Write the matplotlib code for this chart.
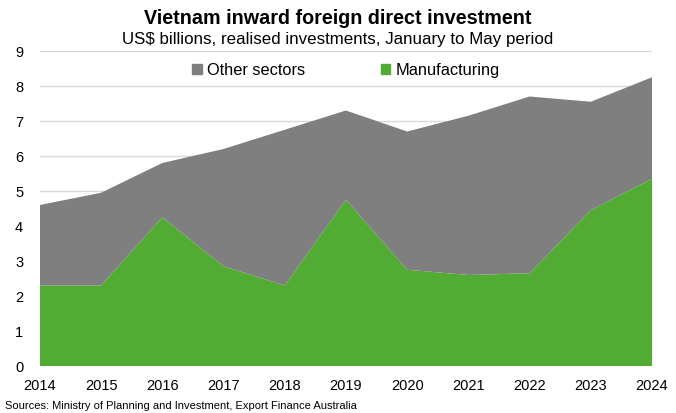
import matplotlib
matplotlib.use("Agg")
import matplotlib.pyplot as plt
from matplotlib.patches import Patch

years = [2014, 2015, 2016, 2017, 2018, 2019, 2020, 2021, 2022, 2023, 2024]
manufacturing = [2.3, 2.3, 4.25, 2.85, 2.3, 4.75, 2.75, 2.6, 2.65, 4.45, 5.35]
other_sectors = [2.3, 2.65, 1.55, 3.35, 4.45, 2.55, 3.95, 4.55, 5.05, 3.1, 2.9]
y_ticks = [0, 1, 2, 3, 4, 5, 6, 7, 8, 9]

plt.rcParams['font.family'] = ['Liberation Sans', 'DejaVu Sans']

green = '#52ab33'
grey = '#7f7f7f'

fig = plt.figure(figsize=(6.76, 4.13), dpi=100)
ax = fig.add_axes([0.059, 0.1138, 0.9055, 0.7627])

ax.stackplot(years, manufacturing, other_sectors, colors=[green, grey],
             labels=['Manufacturing', 'Other sectors'], linewidth=0, zorder=2)

ax.set_xlim(years[0], years[-1])
ax.set_ylim(0, 9)
ax.set_yticks(y_ticks)
ax.set_xticks(years)
ax.grid(axis='y', color='#d9d9d9', linewidth=1, zorder=0)
ax.set_axisbelow(True)
for s in ax.spines.values():
    s.set_visible(False)
ax.tick_params(axis='both', length=0, labelsize=10.5, colors='#000000')
ax.tick_params(axis='y', pad=12)
ax.tick_params(axis='x', pad=9)

handles = [Patch(color=grey), Patch(color=green)]
leg = ax.legend(handles, ['Other sectors', 'Manufacturing'], loc='upper center',
                bbox_to_anchor=(0.5, 1.01), ncol=2, frameon=False,
                fontsize=11.8, handlelength=0.6, handleheight=0.6,
                handletextpad=0.3, columnspacing=4.6)

fig.text(0.5, 0.955, 'Vietnam inward foreign direct investment', ha='center',
         va='center', fontsize=14.2, fontweight='bold')
fig.text(0.5, 0.905, 'US$ billions, realised investments, January to May period',
         ha='center', va='center', fontsize=12.2)
fig.text(0.008, 0.006, 'Sources: Ministry of Planning and Investment, Export Finance Australia',
         ha='left', va='bottom', fontsize=8)

fig.savefig('out.png', dpi=100)
